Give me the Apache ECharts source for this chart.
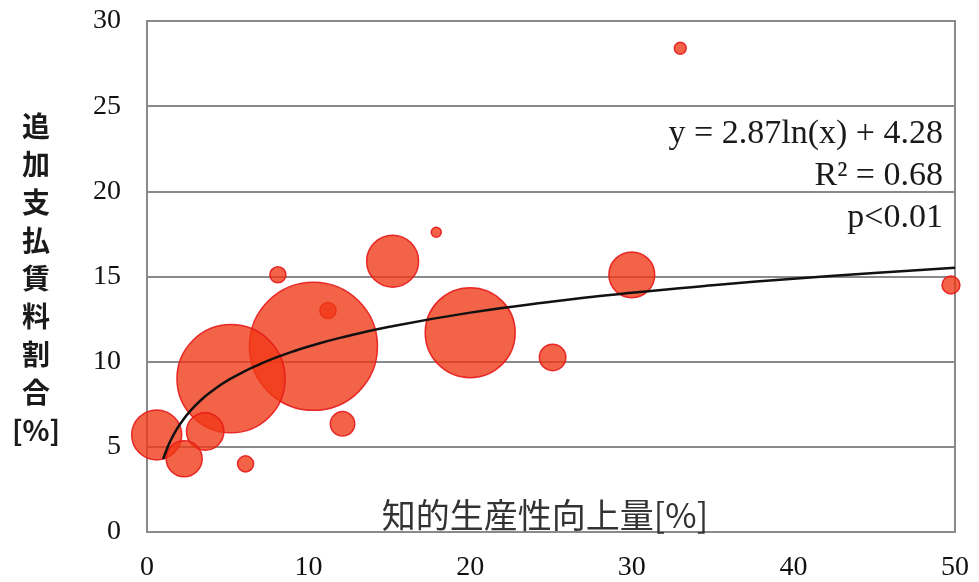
<!DOCTYPE html>
<html>
<head>
<meta charset="utf-8">
<script src="https://cdn.jsdelivr.net/npm/echarts@6/dist/echarts.min.js"></script>
<style>
  html, body { margin: 0; padding: 0; background: #fff; }
  #chart { width: 979px; height: 582px; }
</style>
</head>
<body>
<div id="chart"></div>
<script>
// 知的生産性向上量 [%]
const xValues = [33.0, 17.9, 15.2, 8.1, 11.2, 10.3, 5.2, 20.0, 25.1, 30.0, 49.75, 12.1, 6.1, 0.6, 3.6, 2.3]
// 追加支払賃料割合 [%]
const yValues = [28.4, 17.6, 15.9, 15.1, 13.0, 10.9, 9.0, 11.7, 10.25, 15.1, 14.5, 6.35, 4.0, 5.7, 5.9, 4.3]
// バブルの大きさ（相対値）
const bubbleWeights = [1.4, 1.0, 27, 2.6, 2.6, 164, 117, 81, 7, 21, 3.2, 6, 2.6, 25, 14, 13]

// 近似曲線
const trendX = [1.0, 1.2, 1.4, 1.6, 1.8, 2.0, 2.3, 2.6, 3.0, 3.5, 4, 4.5, 5, 6, 7, 8, 9, 10, 12, 15, 20, 25, 30, 35, 40, 45, 50]
const trendY = [4.28, 4.80, 5.25, 5.63, 5.97, 6.27, 6.67, 7.02, 7.43, 7.88, 8.26, 8.60, 8.90, 9.42, 9.86, 10.25, 10.59, 10.89, 11.41, 12.05, 12.88, 13.52, 14.04, 14.48, 14.87, 15.20, 15.51]

const xTicks = [0, 10, 20, 30, 40, 50]
const yTicks = [0, 5, 10, 15, 20, 25, 30]

const yTitle = ['追', '加', '支', '払', '賃', '料', '割', '合', '[%]']
const xTitle = '知的生産性向上量[%]'
const fitLabels = ['y = 2.87ln(x) + 4.28', 'R² = 0.68', 'p<0.01']

const bubbleData = xValues.map((x, i) => [x, yValues[i], bubbleWeights[i]])
const trendData = trendX.map((x, i) => [x, trendY[i]])

const chart = echarts.init(document.getElementById('chart'))

const serif = '"Liberation Serif", "DejaVu Serif", serif'
const cjk = '"Noto Sans CJK JP", sans-serif'

const option = {
  backgroundColor: '#fff',
  animation: false,
  grid: {
    left: 147,
    right: 24,
    top: 21,
    bottom: 46,
    show: true,
    borderColor: '#8a8a8a',
    borderWidth: 2,
    backgroundColor: 'transparent'
  },
  xAxis: {
    type: 'value',
    min: 0,
    max: 50,
    interval: 10,
    axisLine: { show: false },
    axisTick: { show: false },
    splitLine: { show: false },
    axisLabel: {
      color: '#111',
      fontFamily: serif,
      fontSize: 28,
      margin: 22,
      formatter: v => xTicks.includes(v) ? String(v) : ''
    }
  },
  yAxis: {
    type: 'value',
    min: 0,
    max: 30,
    interval: 5,
    axisLine: { show: false },
    axisTick: { show: false },
    splitLine: { lineStyle: { color: '#8a8a8a', width: 2 } },
    axisLabel: {
      color: '#111',
      fontFamily: serif,
      fontSize: 28,
      margin: 26,
      formatter: v => yTicks.includes(v) ? String(v) : ''
    }
  },
  series: [
    {
      type: 'scatter',
      data: bubbleData,
      symbolSize: d => 10 * Math.sqrt(d[2]),
      clip: true,
      itemStyle: {
        color: 'rgba(240, 55, 20, 0.78)',
        borderColor: 'rgba(230, 25, 25, 0.9)',
        borderWidth: 1.5,
        opacity: 1
      },
      z: 2
    },
    {
      type: 'line',
      data: trendData,
      smooth: true,
      showSymbol: false,
      lineStyle: { color: '#111', width: 2.5 },
      z: 3
    }
  ],
  graphic: [
    {
      type: 'text',
      x: 36,
      y: 278,
      style: {
        text: yTitle.join('\n'),
        fontFamily: cjk,
        fontSize: 28,
        fontWeight: 'bold',
        lineHeight: 38,
        fill: '#1a1a1a',
        align: 'center',
        verticalAlign: 'middle'
      },
      z: 10
    },
    {
      type: 'text',
      x: 545,
      y: 515,
      style: {
        text: xTitle,
        fontFamily: cjk,
        fontSize: 34,
        fill: '#333',
        align: 'center',
        verticalAlign: 'middle'
      },
      z: 10
    },
    ...fitLabels.map((t, i) => ({
      type: 'text',
      x: 943,
      y: 134 + i * 42,
      style: {
        text: t,
        fontFamily: serif,
        fontSize: 34,
        fill: '#1a1a1a',
        align: 'right',
        verticalAlign: 'middle'
      },
      z: 10
    }))
  ]
}

chart.setOption(option)
</script>
</body>
</html>
